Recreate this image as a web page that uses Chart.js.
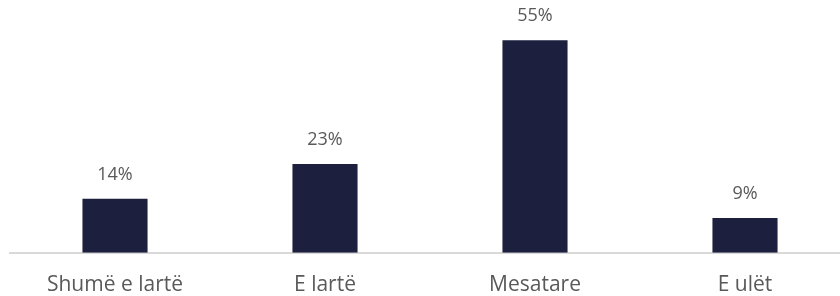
<!DOCTYPE html>
<html>
<head>
<meta charset="utf-8">
<script src="https://cdn.jsdelivr.net/npm/chart.js@4"></script>
<style>
  html, body { margin: 0; padding: 0; background: #fff; overflow: hidden; }
  #wrap { width: 850px; height: 296px; }
</style>
</head>
<body>
<div id="wrap"><canvas id="chart"></canvas></div>
<script>
const categories = ['Shumë e lartë', 'E lartë', 'Mesatare', 'E ulët']
const values = [14, 23, 55, 9]

const valueLabels = {
  id: 'valueLabels',
  afterDatasetsDraw (chart) {
    const ctx = chart.ctx
    ctx.save()
    ctx.font = '18px "Open Sans"'
    ctx.fillStyle = '#595959'
    ctx.textAlign = 'center'
    ctx.textBaseline = 'middle'
    chart.getDatasetMeta(0).data.forEach((bar, i) => {
      ctx.fillText(values[i] + '%', bar.x, bar.y - 24)
    })
    ctx.restore()
  }
}

new Chart(document.getElementById('chart'), {
  type: 'bar',
  data: {
    labels: categories,
    datasets: [{
      data: values,
      backgroundColor: '#1c1f3d',
      borderWidth: 0,
      categoryPercentage: 1,
      barPercentage: 0.31
    }]
  },
  options: {
    responsive: true,
    maintainAspectRatio: false,
    animation: false,
    layout: { padding: { left: 10, right: 0, top: 21, bottom: -22 } },
    plugins: { legend: { display: false }, tooltip: { enabled: false } },
    scales: {
      y: { display: false, min: 0, max: 60 },
      x: {
        grid: { display: false, drawTicks: false },
        border: { color: '#d9d9d9', width: 2 },
        ticks: {
          color: '#595959',
          font: { family: 'Open Sans', size: 21 },
          padding: 20
        }
      }
    }
  },
  plugins: [valueLabels]
})
</script>
</body>
</html>
